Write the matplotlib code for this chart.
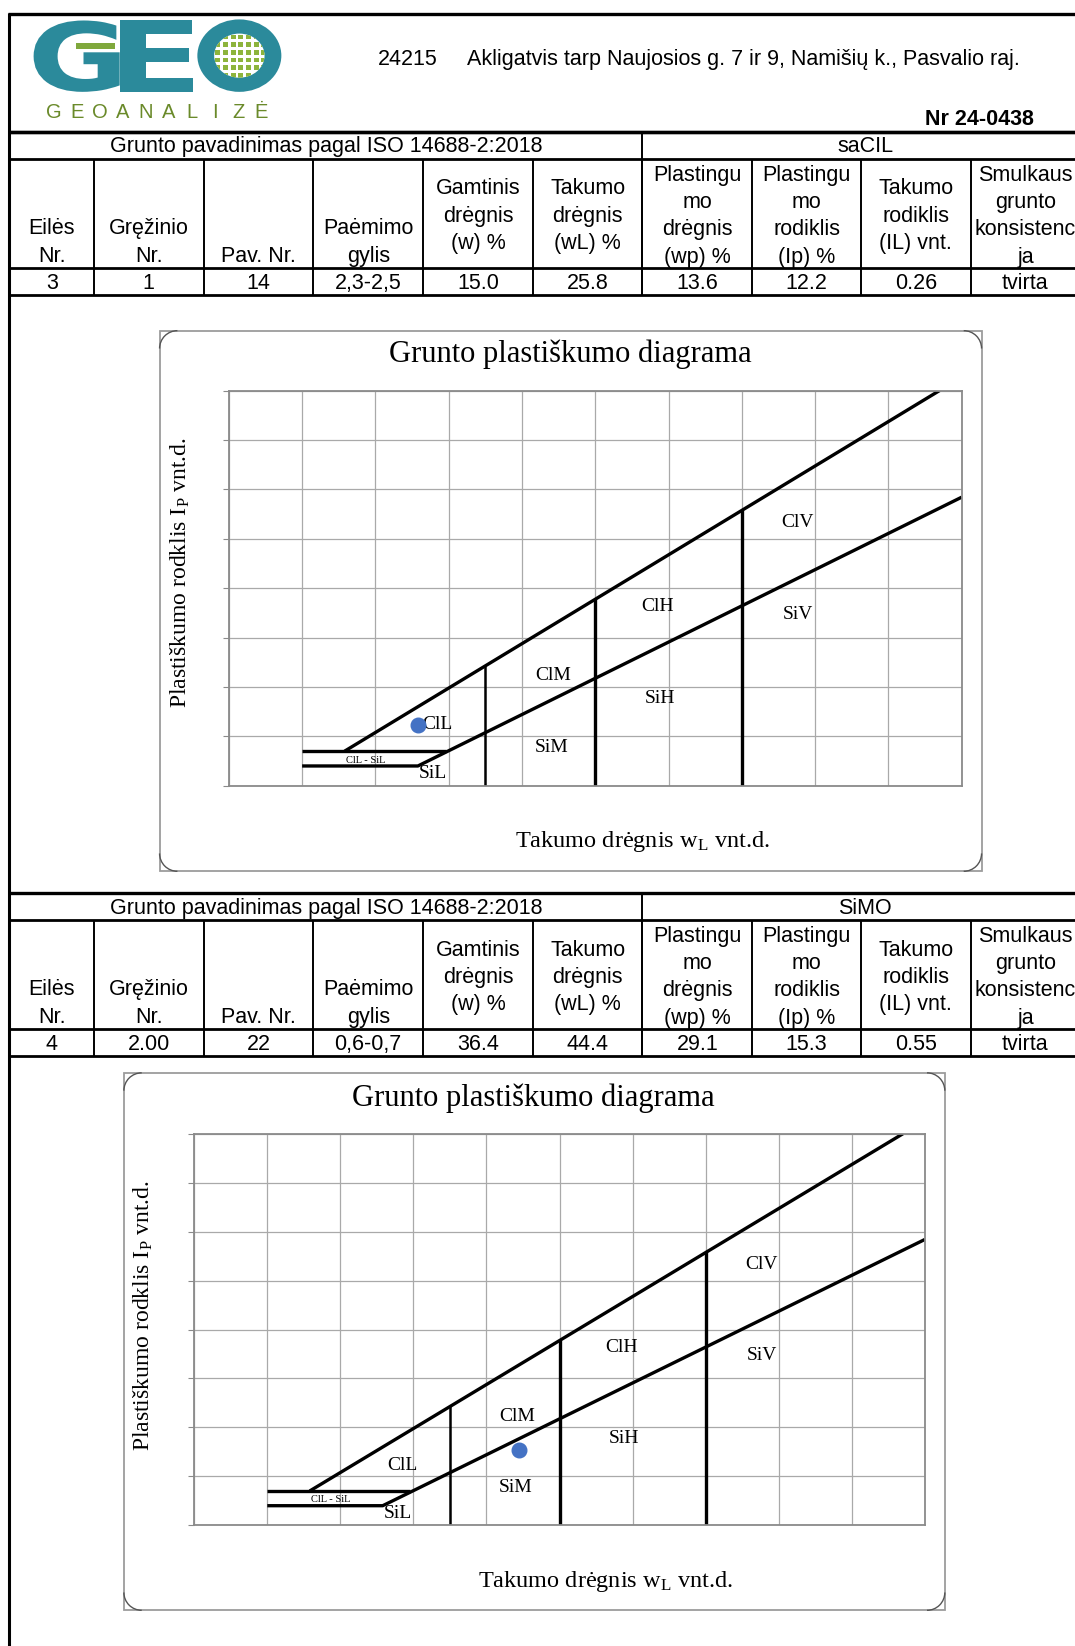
import matplotlib.pyplot as plt
from matplotlib.patches import Rectangle, Ellipse, Arc, PathPatch
from matplotlib.textpath import TextPath
from matplotlib.font_manager import FontProperties
from matplotlib.transforms import Affine2D

plt.rcParams['font.family'] = ['Liberation Sans', 'DejaVu Sans']
plt.rcParams['mathtext.default'] = 'regular'

# ---- data read from the sheet
object_no = "24215"
address = "Akligatvis tarp Naujosios g. 7 ir 9, Namišių k., Pasvalio raj."
report_no = "Nr 24-0438"
iso_title = "Grunto pavadinimas pagal ISO 14688-2:2018"
headers = [["Eilės", "Nr."], ["Gręžinio", "Nr."], ["Pav. Nr."], ["Paėmimo", "gylis"],
           ["Gamtinis", "drėgnis", "(w) %"], ["Takumo", "drėgnis", "(wL) %"],
           ["Plastingu", "mo", "drėgnis", "(wp) %"], ["Plastingu", "mo", "rodiklis", "(Ip) %"],
           ["Takumo", "rodiklis", "(IL) vnt."], ["Smulkaus", "grunto", "konsistenc", "ja"]]
soil_names = ["saCIL", "SiMO"]
sample_rows = [["3", "1", "14", "2,3-2,5", "15.0", "25.8", "13.6", "12.2", "0.26", "tvirta"],
               ["4", "2.00", "22", "0,6-0,7", "36.4", "44.4", "29.1", "15.3", "0.55", "tvirta"]]

# plasticity chart boundaries (w_L, I_p in unit fractions)
u_line_wl = [0.158, 0.97]
u_line_ip = [0.07, 0.80]
a_line_wl = [0.10, 0.258, 1.00]
a_line_ip = [0.04, 0.04, 0.584]
clml_wl = [0.10, 0.296]
clml_ip = [0.07, 0.07]
split_wl = [0.35, 0.50, 0.70]
split_top = [0.243, 0.378, 0.558]

zone_names = ["ClL", "ClM", "ClH", "ClV", "SiV", "SiH", "SiM", "SiL"]
zone_x = [0.285, 0.442, 0.585, 0.776, 0.777, 0.588, 0.44, 0.279]
zone_y = [0.123, 0.223, 0.363, 0.533, 0.346, 0.177, 0.078, 0.024]

W, H = 1024, 1568
fig = plt.figure(figsize=(10.75, 16.46), dpi=100)
bg = fig.add_axes([0, 0, 1, 1])
bg.set_xlim(0, W)
bg.set_ylim(H, 0)
bg.axis('off')


def hline(y, x0, x1, lw=1.5):
    bg.plot([x0, x1], [y, y], color='k', lw=lw, solid_capstyle='butt')


def vline(x, y0, y1, lw=1.4):
    bg.plot([x, x], [y0, y1], color='k', lw=lw, solid_capstyle='butt')


# outer frame
hline(13.5, 8, W, 2.4)
vline(9, 12, H, 2.2)
hline(125.5, 8, W, 2.4)

# ---- logo
teal = '#2b8a9b'
fp = FontProperties(family='DejaVu Sans', weight='bold')
for ch, (x0, x1) in zip("GE", [(32, 114), (114, 184)]):
    tp = TextPath((0, 0), ch, size=100, prop=fp)
    bb = tp.get_extents()
    tr = Affine2D().translate(-bb.x0, -bb.y0).scale((x1 - x0) / bb.width, -68 / bb.height).translate(x0, 87.5)
    bg.add_patch(PathPatch(tr.transform_path(tp), fc=teal, ec='none'))
bg.add_patch(Rectangle((72, 41), 38, 6, fc='#7fa83c', ec='none'))
bg.add_patch(Ellipse((228, 53), 80, 69, fc=teal, ec='none'))
inner = Ellipse((228, 53), 48, 42, fc='white', ec='none')
bg.add_patch(inner)
for i in range(7):
    for j in range(6):
        sq = Rectangle((205 + i * 7.3, 33 + j * 7.3), 5, 4.6, fc='#8db43c', ec='none')
        bg.add_patch(sq)
        sq.set_clip_path(inner)
for i, ch in enumerate("GEOANALIZĖ"):
    bg.text(40 + (i + 0.5) * 22, 107, ch, fontsize=14.5, color='#6a8a2a',
            ha='center', va='center')

bg.text(360, 56.5, object_no, fontsize=15.5, ha='left', va='center')
bg.text(445, 56.5, address, fontsize=15.5, ha='left', va='center')
bg.text(985, 113.5, report_no, fontsize=15.5, fontweight='bold', ha='right', va='center')

# ---- tables
cols = [9, 89.5, 194, 298.5, 403, 507.5, 612, 716.5, 820, 924.5, 1029]
first_line = {4: 41.5, 3: 54.5, 2: 92.5, 1: 118.5}


def draw_table(y0, name, row):
    hline(y0, 8, W, 2.4)
    hline(y0 + 25.5, 8, W, 2.0)
    hline(y0 + 130, 8, W, 2.0)
    hline(y0 + 155.5, 8, W, 2.0)
    vline(612, y0, y0 + 155.5)
    for x in cols[1:]:
        vline(x, y0 + 25.5, y0 + 155.5)
    bg.text(310.5, y0 + 14.5, iso_title, fontsize=15.5, ha='center', va='center')
    bg.text(824, y0 + 14.5, name, fontsize=15.5, ha='center', va='center')
    for k in range(10):
        xc = (cols[k] + cols[k + 1]) / 2
        lines = headers[k]
        for i, s in enumerate(lines):
            bg.text(xc, y0 + first_line[len(lines)] + 26 * i, s, fontsize=15.5,
                    ha='center', va='center')
        bg.text(xc, y0 + 144.5, row[k], fontsize=15.5, ha='center', va='center')


draw_table(125.5, soil_names[0], sample_rows[0])
draw_table(850.5, soil_names[1], sample_rows[1])


# ---- plasticity charts
def panel(x, y, w, h):
    bg.add_patch(Rectangle((x, y), w, h, fc='none', ec='#9c9c9c', lw=1.3))
    r = 17
    for cx, cy, a in [(x + r, y + r, 180), (x + w - r, y + r, 270),
                      (x + w - r, y + h - r, 0), (x + r, y + h - r, 90)]:
        bg.add_patch(Arc((cx, cy), 2 * r, 2 * r, theta1=a, theta2=a + 90,
                         color='#555555', lw=1.0))


def draw_chart(pan, plot, title_xy, ylab_xy, xlab_xy, wl, ip):
    panel(*pan)
    px, py, pw, ph = plot
    ax = fig.add_axes([px / W, 1 - (py + ph) / H, pw / W, ph / H])
    ax.set_xlim(0, 1)
    ax.set_ylim(0, 0.8)
    ax.set_xticks([i / 10 for i in range(11)])
    ax.set_yticks([i / 10 for i in range(9)])
    ax.set_xticklabels([])
    ax.set_yticklabels([])
    ax.grid(True, color='#a9a9a9', lw=0.9)
    ax.tick_params(axis='x', length=0)
    ax.tick_params(axis='y', length=4, color='#8a8a8a', direction='out')
    for sp in ax.spines.values():
        sp.set_color('#8a8a8a')
        sp.set_linewidth(1.3)
    ax.plot(u_line_wl, u_line_ip, color='k', lw=2.4, solid_capstyle='butt')
    ax.plot(a_line_wl, a_line_ip, color='k', lw=2.4, solid_capstyle='butt')
    ax.plot(clml_wl, clml_ip, color='k', lw=2.4, solid_capstyle='butt')
    for k, (xs, top) in enumerate(zip(split_wl, split_top)):
        ax.plot([xs, xs], [0, top], color='k', lw=1.8 if k == 0 else 2.4,
                solid_capstyle='butt')
    for name, zx, zy in zip(zone_names, zone_x, zone_y):
        ax.text(zx, zy, name, family='Liberation Serif', fontsize=14,
                ha='center', va='center')
    ax.text(0.187, 0.052, "ClL - SiL", family='Liberation Serif', fontsize=7.5,
            ha='center', va='center')
    ax.plot([wl], [ip], 'o', color='#4472c4', ms=10.5, zorder=5, clip_on=False)

    bg.text(*title_xy, "Grunto plastiškumo diagrama", family='Liberation Serif',
            fontsize=22, ha='center', va='center')
    bg.text(*ylab_xy, "Plastiškumo rodklis I$_P$ vnt.d.", family='Liberation Serif',
            fontsize=17, rotation=90, ha='center', va='center')
    bg.text(*xlab_xy, "Takumo drėgnis w$_L$ vnt.d.", family='Liberation Serif',
            fontsize=17.5, ha='center', va='center')


wl_pts = [float(r[5]) / 100 for r in sample_rows]
ip_pts = [float(r[7]) / 100 for r in sample_rows]

draw_chart((152, 315, 783, 515), (218, 372, 698, 376.5), (543, 337), (172, 545),
           (612, 802), wl_pts[0], ip_pts[0])
draw_chart((118, 1022, 782, 512), (185, 1080, 696, 373), (508, 1046), (137, 1253),
           (577, 1507), wl_pts[1], ip_pts[1])

fig.savefig('out.png', dpi=100)
